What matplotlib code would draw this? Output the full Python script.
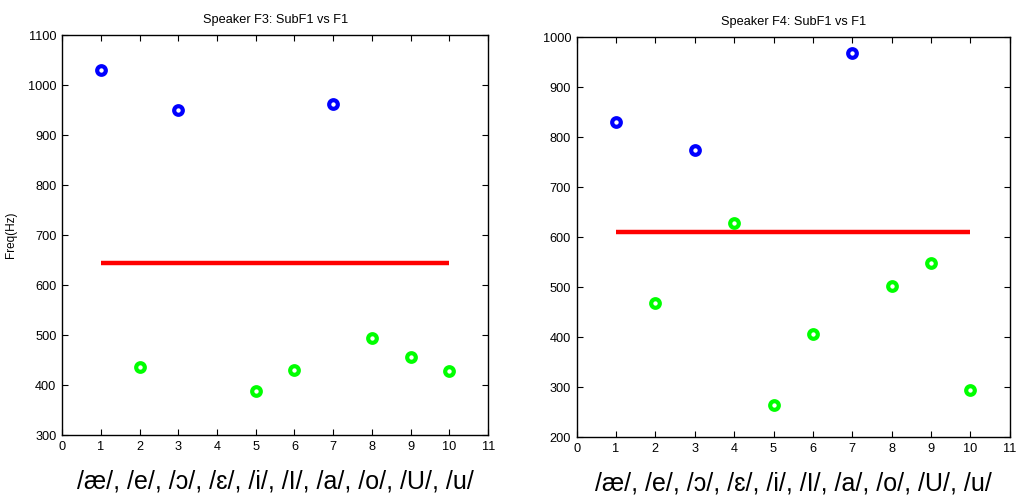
import matplotlib
matplotlib.use('Agg')
import matplotlib.pyplot as plt

plt.rcParams['font.family'] = ['Liberation Sans', 'DejaVu Sans']

# vowel index 1..10
vowel_label = '/æ/, /e/, /ɔ/, /ɛ/, /i/, /I/, /a/, /o/, /U/, /u/'
vowel_idx = [1, 2, 3, 4, 5, 6, 7, 8, 9, 10]

# Speaker F3
f3_blue_x = [1, 3, 7]
f3_blue_y = [1031, 950, 963]
f3_green_x = [2, 5, 6, 8, 9, 10]
f3_green_y = [437, 388, 430, 494, 456, 428]
f3_mean = 645

# Speaker F4
f4_blue_x = [1, 3, 7]
f4_blue_y = [830, 774, 969]
f4_green_x = [2, 4, 5, 6, 8, 9, 10]
f4_green_y = [468, 628, 265, 407, 503, 549, 295]
f4_mean = 611

fig = plt.figure(figsize=(10.17, 5.0), dpi=100)
ax1 = fig.add_axes([0.061, 0.13, 0.419, 0.80])
ax2 = fig.add_axes([0.567, 0.126, 0.426, 0.80])

def draw(ax, bx, by, gx, gy, mean, ylim, title):
    ax.plot([vowel_idx[0], vowel_idx[-1]], [mean, mean], color='red', lw=3.2, solid_capstyle='butt')
    ax.plot(bx, by, 'o', mfc='white', mec='#0000ff', ms=6.2, mew=3, ls='none')
    ax.plot(gx, gy, 'o', mfc='white', mec='#00ff00', ms=6.2, mew=3, ls='none')
    ax.set_xlim(0, 11)
    ax.set_ylim(*ylim)
    ax.set_xticks(range(0, 12))
    ax.set_yticks(range(ylim[0], ylim[1] + 1, 100))
    ax.tick_params(direction='in', top=True, right=True, labelsize=9.2, length=4, width=0.8, pad=4)
    for s in ax.spines.values():
        s.set_linewidth(1.0)
    ax.set_title(title, fontsize=9.2, pad=9)
    ax.set_xlabel(vowel_label, fontsize=18, labelpad=12)

draw(ax1, f3_blue_x, f3_blue_y, f3_green_x, f3_green_y, f3_mean, (300, 1100), 'Speaker F3: SubF1 vs F1')
draw(ax2, f4_blue_x, f4_blue_y, f4_green_x, f4_green_y, f4_mean, (200, 1000), 'Speaker F4: SubF1 vs F1')
ax1.set_ylabel('Freq(Hz)', fontsize=8.5, labelpad=8)

fig.savefig('out.png', dpi=100)
